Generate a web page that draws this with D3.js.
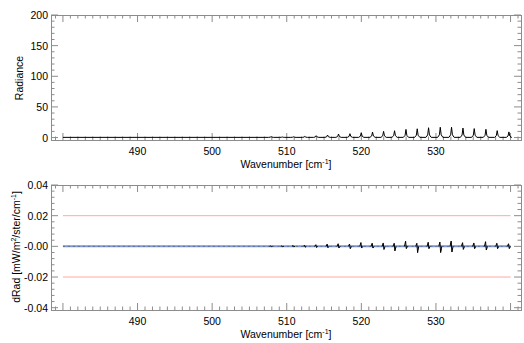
<!DOCTYPE html>
<html><head><meta charset="utf-8">
<script src="https://cdn.jsdelivr.net/npm/d3@7"></script>
<style>
body{margin:0;background:#fff;}
svg{display:block;font-family:"Liberation Sans",Arial,sans-serif;}
</style></head>
<body><svg id="c" width="524" height="343"></svg>
<script>
// ---- data ----
const xDomain = [478.4, 541.4];
const dataRange = [480, 540];
const xMajorTicks = [490, 500, 510, 520, 530];
const radBaseline = 0.3;
const peakWn  = [507.9, 509.4, 510.9, 512.43, 513.95, 515.47, 516.94, 518.47, 519.99, 521.50, 522.98, 524.45, 525.98, 527.49, 529.01, 530.58, 532.09, 533.62, 535.13, 536.70, 538.21, 539.78];
const peakRad = [1.2, 0.6, 0.9, 1.6, 2.7, 3.8, 5.4, 6.0, 7.6, 8.7, 9.8, 10.8, 13.0, 14.0, 15.7, 16.5, 16.5, 15.2, 14.3, 13.2, 11.0, 8.9];
const dUp   = [0.0003, 0.0003, 0.0005, 0.0008, 0.0011, 0.0015, 0.0017, 0.0015, 0.0024, 0.0020, 0.0022, 0.0020, 0.0033, 0.0020, 0.0026, 0.0028, 0.0035, 0.0024, 0.0022, 0.0030, 0.0020, 0.0017];
const dDown = [0.0002, 0.0002, 0.0003, 0.0005, 0.0007, 0.0009, 0.0011, 0.0015, 0.0011, 0.0011, 0.0020, 0.0030, 0.0015, 0.0041, 0.0015, 0.0041, 0.0037, 0.0020, 0.0015, 0.0024, 0.0015, 0.0015];
const limitLines = [0.02, -0.02];
const radTicks = [0, 50, 100, 150, 200];
const dTicks = [-0.04, -0.02, 0, 0.02, 0.04];
const dTickLabels = ["-0.04", "-0.02", "-0.00", "0.02", "0.04"];

const svg = d3.select("#c");
const L = 51, R = 521;
const axisColor = "#8c8c8c";
const x = d3.scaleLinear().domain(xDomain).range([L, R]);

// radiance spectrum points
const radPts = [[dataRange[0], radBaseline]];
peakWn.forEach((w, i) => {
  const h = peakRad[i];
  radPts.push([w - 0.35, radBaseline], [w - 0.12, radBaseline + h * 0.25], [w, radBaseline + h], [w + 0.12, radBaseline + h * 0.25], [w + 0.35, radBaseline]);
});
radPts.push([dataRange[1], radBaseline]);

// difference points
const dPts = [[dataRange[0], 0]];
peakWn.forEach((w, i) => {
  dPts.push([w - 0.2, 0], [w - 0.05, dUp[i]], [w + 0.05, -dDown[i]], [w + 0.2, 0]);
});
dPts.push([dataRange[1], 0]);

function panel(top, bottom, yDomain, yTicks, yMinorStep, yLabels) {
  const y = d3.scaleLinear().domain(yDomain).range([bottom, top]);
  const g = svg.append("g");
  g.append("rect").attr("x", L).attr("y", top).attr("width", R - L).attr("height", bottom - top)
    .attr("fill", "none").attr("stroke", axisColor).attr("stroke-width", 1).attr("shape-rendering", "crispEdges");
  const xMinor = d3.range(Math.ceil(xDomain[0]), Math.floor(xDomain[1]) + 1);
  xMinor.forEach(v => {
    const len = (v % 10 === 0) ? 7 : 3.5;
    g.append("line").attr("x1", x(v)).attr("x2", x(v)).attr("y1", bottom).attr("y2", bottom - len).attr("stroke", axisColor);
    g.append("line").attr("x1", x(v)).attr("x2", x(v)).attr("y1", top).attr("y2", top + len).attr("stroke", axisColor);
  });
  const n = Math.round((yDomain[1] - yTicks[0]) / yMinorStep);
  for (let k = 0; k <= n; k++) {
    const v = yTicks[0] + k * yMinorStep;
    const isMajor = yTicks.some(t => Math.abs(t - v) < yMinorStep / 10);
    const len = isMajor ? 7 : 3.5;
    g.append("line").attr("x1", L).attr("x2", L + len).attr("y1", y(v)).attr("y2", y(v)).attr("stroke", axisColor);
    g.append("line").attr("x1", R).attr("x2", R - len).attr("y1", y(v)).attr("y2", y(v)).attr("stroke", axisColor);
  }
  xMajorTicks.forEach(v => {
    g.append("text").attr("x", x(v)).attr("y", bottom + 15).attr("text-anchor", "middle").attr("font-size", 10.5).text(v);
  });
  yTicks.forEach((v, i) => {
    g.append("text").attr("x", 48).attr("y", y(v) + 4).attr("text-anchor", "end").attr("font-size", 10.5).text(yLabels[i]);
  });
  const xt = g.append("text").attr("x", (L + R) / 2).attr("y", bottom + 27.5).attr("text-anchor", "middle").attr("font-size", 10.5);
  xt.append("tspan").text("Wavenumber [cm");
  xt.append("tspan").attr("font-size", 7).attr("dy", -4).text("-1");
  xt.append("tspan").attr("dy", 4).text("]");
  return {y, g};
}

// top panel
const p1 = panel(15, 140, [-4, 200], radTicks, 10, radTicks.map(String));
const line1 = d3.line().x(d => x(d[0])).y(d => p1.y(d[1]));
p1.g.append("path").datum(radPts).attr("d", line1).attr("fill", "none").attr("stroke", "#000").attr("stroke-width", 1);
svg.append("text").attr("transform", "translate(23,78) rotate(-90)").attr("text-anchor", "middle").attr("font-size", 10.5).text("Radiance");

// bottom panel
const p2 = panel(185, 310, [-0.0415, 0.04], dTicks, 0.004, dTickLabels);
limitLines.forEach(v => {
  p2.g.append("line").attr("x1", x(dataRange[0])).attr("x2", x(dataRange[1])).attr("y1", p2.y(v)).attr("y2", p2.y(v))
    .attr("stroke", "#ffa8a0").attr("stroke-width", 1);
});
const line2 = d3.line().x(d => x(d[0])).y(d => p2.y(d[1]));
p2.g.append("line").attr("x1", x(dataRange[0])).attr("x2", x(dataRange[1])).attr("y1", p2.y(0)).attr("y2", p2.y(0))
  .attr("stroke", "#7b96d6").attr("stroke-width", 2);
p2.g.append("path").datum(dPts).attr("d", line2).attr("fill", "none").attr("stroke", "#555").attr("stroke-width", 1)
  .attr("stroke-dasharray", "2,3").attr("opacity", 0.6);
peakWn.forEach((w, i) => {
  p2.g.append("path").datum([[w - 0.2, 0], [w - 0.05, dUp[i]], [w + 0.05, -dDown[i]], [w + 0.2, 0]])
    .attr("d", line2).attr("fill", "none").attr("stroke", "#000").attr("stroke-width", 1);
});
const yt = svg.append("text").attr("transform", "translate(20,247) rotate(-90)").attr("text-anchor", "middle").attr("font-size", 10.5);
yt.append("tspan").text("dRad [mW/m");
yt.append("tspan").attr("font-size", 7).attr("dy", -4).text("2");
yt.append("tspan").attr("dy", 4).text("/ster/cm");
yt.append("tspan").attr("font-size", 7).attr("dy", -4).text("-1");
yt.append("tspan").attr("dy", 4).text("]");
</script></body></html>
